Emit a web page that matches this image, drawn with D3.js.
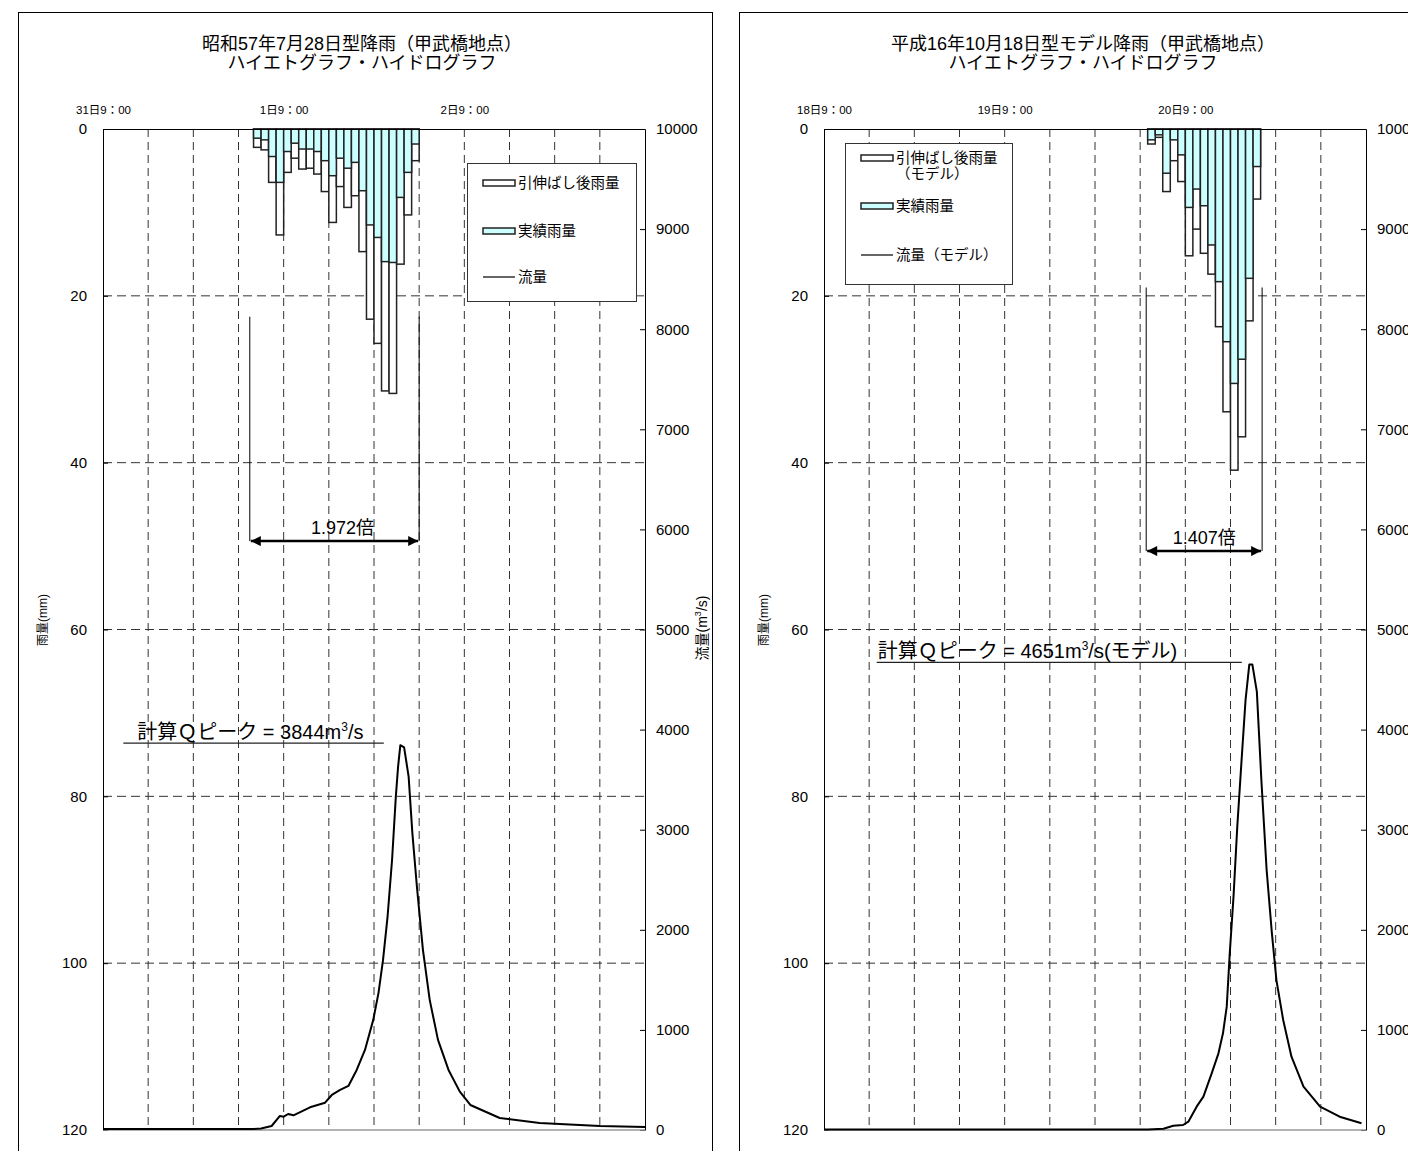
<!DOCTYPE html>
<html>
<head>
<meta charset="utf-8">
<script src="https://cdn.jsdelivr.net/npm/d3@7"></script>
<style>
  body { margin: 0; background: #fff; }
  svg { display: block; }
  text { font-family: "Liberation Sans", "Noto Sans CJK JP", sans-serif; fill: #000; }
</style>
</head>
<body>
<svg id="chart" width="1408" height="1151"></svg>
<script>
// ---- left: 昭和57年7月28日型 ----
const titleA = ["昭和57年7月28日型降雨（甲武橋地点）", "ハイエトグラフ・ハイドログラフ"];
const dayLabelsA = ["31日9：00", "1日9：00", "2日9：00"];
const rainStartA = 20; // hours after 31日9:00
const stretchedA = [2.2, 2.5, 6.4, 12.7, 5.2, 3.5, 4.8, 4.7, 5.4, 7.5, 11.2, 6.9, 9.4, 8.0, 14.7, 22.8, 25.7, 31.4, 31.7, 16.2, 10.3, 3.8];
const actualA = [1.1, 1.3, 3.3, 6.4, 2.7, 1.7, 2.4, 2.4, 2.7, 3.8, 5.6, 3.5, 4.7, 4.0, 7.4, 11.5, 13.0, 15.9, 16.0, 8.2, 5.2, 1.8];
const flowHoursA = [0, 20, 21, 22.4, 23.5, 24, 24.6, 25.3, 27.5, 29.5, 30.4, 31.5, 32.6, 33.7, 34.8, 35.9, 36.6, 37.2, 37.8, 38.4, 38.9, 39.2, 39.5, 40, 40.6, 41.1, 41.7, 42.5, 43.4, 44.5, 45.9, 47.4, 48.8, 52.7, 58, 66, 72];
const flowA = [10, 10, 15, 40, 140, 133, 160, 147, 227, 273, 350, 400, 440, 600, 800, 1100, 1370, 1700, 2130, 2700, 3330, 3630, 3844, 3823, 3530, 2963, 2430, 1800, 1300, 900, 600, 383, 250, 120, 70, 40, 30];
const ratioA = "1.972倍";
const peakA = 3844;
const legendA = [["引伸ばし後雨量"], ["実績雨量"], ["流量"]];

// ---- right: 平成16年10月18日型モデル ----
const titleB = ["平成16年10月18日型モデル降雨（甲武橋地点）", "ハイエトグラフ・ハイドログラフ"];
const dayLabelsB = ["18日9：00", "19日9：00", "20日9：00"];
const rainStartB = 43; // hours after 18日9:00
const stretchedB = [1.8, 1.0, 7.5, 3.8, 6.3, 15.2, 12.0, 14.9, 17.4, 23.7, 33.9, 40.9, 36.9, 23.0, 8.4];
const actualB = [1.3, 0.7, 5.3, 1.3, 3.1, 9.4, 7.2, 9.2, 13.9, 18.3, 25.5, 30.5, 27.6, 17.9, 4.5];
const flowHoursB = [0, 43, 45.1, 46.4, 47.7, 48.4, 49.5, 50.4, 51.5, 52.4, 53, 53.5, 53.9, 54.4, 54.9, 55.5, 56, 56.5, 56.9, 57.5, 58.1, 58.8, 59.5, 60.1, 61, 62.1, 63.7, 65.9, 68.5, 71.4];
const flowB = [5, 5, 13, 43, 50, 83, 233, 333, 566, 766, 966, 1232, 1765, 2331, 3030, 3729, 4296, 4651, 4651, 4379, 3497, 2597, 1965, 1498, 1099, 732, 433, 233, 133, 67];
const ratioB = "1.407倍";
const peakB = 4651;
const legendB = [["引伸ばし後雨量", "（モデル）"], ["実績雨量"], ["流量（モデル）"]];

const rainTicks = [0, 20, 40, 60, 80, 100, 120];
const flowTicks = d3.range(0, 10001, 1000);
const dayTicks = [0, 24, 48];
const gridHours = d3.range(6, 72, 6);

const svg = d3.select("#chart");
const cyan = "#ccffff";

const defs = svg.append("defs");
["s", "e"].forEach((k) => {
  defs.append("marker")
    .attr("id", "arr-" + k)
    .attr("viewBox", "0 0 10 10")
    .attr("refX", k === "e" ? 10 : 0)
    .attr("refY", 5)
    .attr("markerWidth", 5)
    .attr("markerHeight", 4)
    .attr("markerUnits", "strokeWidth")
    .attr("orient", "auto")
    .append("path")
    .attr("d", k === "e" ? "M0,0L10,5L0,10Z" : "M10,0L0,5L10,10Z")
    .attr("fill", "#000");
});

function drawPanel(cfg) {
  const ox = cfg.ox;
  const g = svg.append("g");

  g.append("rect")
    .attr("x", 18.5 + ox).attr("y", 12.5)
    .attr("width", 694).attr("height", 1170)
    .attr("fill", "#fff").attr("stroke", "#000");

  const x = d3.scaleLinear().domain([0, 72]).range([103 + ox, 645 + ox]);
  const yR = d3.scaleLinear().domain([0, 120]).range([129, 1130]);
  const yQ = d3.scaleLinear().domain([0, 10000]).range([1130, 129]);

  // titles
  g.selectAll("text.title")
    .data(cfg.title)
    .join("text")
    .attr("class", "title")
    .attr("x", 362 + ox)
    .attr("y", (d, i) => 50 + i * 19)
    .attr("text-anchor", "middle")
    .attr("font-size", 18)
    .text((d) => d);

  // grid
  g.append("g")
    .selectAll("line")
    .data(gridHours)
    .join("line")
    .attr("x1", (d) => x(d)).attr("x2", (d) => x(d))
    .attr("y1", yR(0)).attr("y2", yR(120))
    .attr("stroke", "#333").attr("stroke-dasharray", "8,5");
  g.append("g")
    .selectAll("line")
    .data(rainTicks.slice(1, -1))
    .join("line")
    .attr("x1", x(0)).attr("x2", x(72))
    .attr("y1", (d) => yR(d)).attr("y2", (d) => yR(d))
    .attr("stroke", "#333").attr("stroke-dasharray", "9,5");

  // rain bars: stretched (white) behind, actual (cyan) on top
  const bars = g.append("g");
  bars.selectAll("rect.st")
    .data(cfg.stretched)
    .join("rect")
    .attr("class", "st")
    .attr("x", (d, i) => x(cfg.start + i))
    .attr("width", (d, i) => x(cfg.start + i + 1) - x(cfg.start + i))
    .attr("y", yR(0))
    .attr("height", (d) => yR(d) - yR(0))
    .attr("fill", "#fff").attr("stroke", "#222").attr("stroke-width", 1.5);
  bars.selectAll("rect.ac")
    .data(cfg.actual)
    .join("rect")
    .attr("class", "ac")
    .attr("x", (d, i) => x(cfg.start + i))
    .attr("width", (d, i) => x(cfg.start + i + 1) - x(cfg.start + i))
    .attr("y", yR(0))
    .attr("height", (d) => yR(d) - yR(0))
    .attr("fill", cyan).attr("stroke", "#222").attr("stroke-width", 1.5);

  // axes
  g.append("g")
    .attr("transform", `translate(${x(0)},0)`)
    .call(d3.axisLeft(yR).tickValues(rainTicks).tickSizeInner(-5).tickSizeOuter(0).tickPadding(16))
    .call((s) => s.selectAll("text").attr("font-size", 15))
    .call((s) => s.select(".domain").attr("stroke", "#000"));
  g.append("g")
    .attr("transform", `translate(${x(72)},0)`)
    .call(d3.axisRight(yQ).tickValues(flowTicks).tickFormat(d3.format("d")).tickSizeInner(-5).tickSizeOuter(0).tickPadding(11))
    .call((s) => s.selectAll("text").attr("font-size", 15));
  g.append("g")
    .attr("transform", `translate(0,${yR(0)})`)
    .call(d3.axisTop(x).tickValues(dayTicks).tickFormat((d, i) => cfg.days[i]).tickSize(0).tickPadding(15))
    .call((s) => s.selectAll("text").attr("font-size", 11.5));
  g.append("line")
    .attr("x1", x(0)).attr("x2", x(72))
    .attr("y1", yR(120)).attr("y2", yR(120))
    .attr("stroke", "#999").attr("stroke-width", 1.5);

  // axis titles
  g.append("text")
    .attr("transform", `translate(${47 + ox},620) rotate(-90)`)
    .attr("text-anchor", "middle")
    .attr("font-size", 12)
    .text("雨量(mm)");
  const qt = g.append("text")
    .attr("transform", `translate(${707 + ox},628) rotate(-90)`)
    .attr("text-anchor", "middle")
    .attr("font-size", 14);
  qt.append("tspan").text("流量(m");
  qt.append("tspan").attr("dy", -6).attr("font-size", 9).text("3");
  qt.append("tspan").attr("dy", 6).text("/s)");

  // hydrograph
  const pts = cfg.flowHours.map((h, i) => [h, cfg.flow[i]]);
  g.append("path")
    .datum(pts)
    .attr("fill", "none")
    .attr("stroke", "#000")
    .attr("stroke-width", 2)
    .attr("stroke-linejoin", "round")
    .attr("d", d3.line().x((d) => x(d[0])).y((d) => yQ(d[1])));

  // stretch ratio annotation
  const a = cfg.anno;
  g.selectAll("line.vl")
    .data([a.h0, a.h1])
    .join("line")
    .attr("class", "vl")
    .attr("x1", (d) => x(d)).attr("x2", (d) => x(d))
    .attr("y1", yR(a.top)).attr("y2", yR(a.arrow))
    .attr("stroke", "#000");
  g.append("line")
    .attr("x1", x(a.h0) + 1).attr("x2", x(a.h1) - 1)
    .attr("y1", yR(a.arrow)).attr("y2", yR(a.arrow))
    .attr("stroke", "#000").attr("stroke-width", 2.5)
    .attr("marker-start", "url(#arr-s)")
    .attr("marker-end", "url(#arr-e)");
  g.append("text")
    .attr("x", (x(a.h0) + x(a.h1)) / 2 + a.rx)
    .attr("y", yR(a.arrow) - 7)
    .attr("text-anchor", "middle")
    .attr("font-size", 18)
    .text(cfg.ratio);

  // peak annotation
  const py = yQ(cfg.peak) - 2;
  g.append("line")
    .attr("x1", x(a.p0)).attr("x2", x(a.p1))
    .attr("y1", py).attr("y2", py)
    .attr("stroke", "#222").attr("stroke-width", 1.2);
  const pt = g.append("text")
    .attr("x", x(a.p0) + a.tx)
    .attr("y", py - 4)
    .attr("font-size", 20);
  pt.append("tspan").text(`計算Ｑピーク = ${cfg.peak}m`);
  pt.append("tspan").attr("dy", -8).attr("font-size", 12).text("3");
  pt.append("tspan").attr("dy", 8).text("/s" + cfg.peakSuffix);

  // legend
  const L = cfg.legend;
  g.append("rect")
    .attr("x", L.x + 0.5).attr("y", L.y + 0.5)
    .attr("width", L.w).attr("height", L.h)
    .attr("fill", "#fff").attr("stroke", "#333");
  cfg.legendItems.forEach((lines, i) => {
    const cy = L.y + L.rows[i];
    if (i < 2) {
      g.append("rect")
        .attr("x", L.x + 16).attr("y", cy - 3)
        .attr("width", 32).attr("height", 6)
        .attr("fill", i === 0 ? "#fff" : cyan)
        .attr("stroke", "#222").attr("stroke-width", 1.5);
    } else {
      g.append("line")
        .attr("x1", L.x + 16).attr("x2", L.x + 48)
        .attr("y1", cy).attr("y2", cy)
        .attr("stroke", "#000").attr("stroke-width", 1.2);
    }
    lines.forEach((t, j) => {
      g.append("text")
        .attr("x", L.x + 51)
        .attr("y", cy + 5 + j * 16)
        .attr("font-size", 14.5)
        .text(t);
    });
  });
}

drawPanel({
  ox: 0,
  title: titleA,
  days: dayLabelsA,
  start: rainStartA,
  stretched: stretchedA,
  actual: actualA,
  flowHours: flowHoursA,
  flow: flowA,
  ratio: ratioA,
  peak: peakA,
  peakSuffix: "",
  anno: { h0: 19.5, h1: 42, top: 22.5, arrow: 49.4, p0: 2.7, p1: 37.3, tx: 14, rx: 8 },
  legend: { x: 467, y: 163, w: 169, h: 138, rows: [20, 68, 114] },
  legendItems: legendA,
});

drawPanel({
  ox: 721,
  title: titleB,
  days: dayLabelsB,
  start: rainStartB,
  stretched: stretchedB,
  actual: actualB,
  flowHours: flowHoursB,
  flow: flowB,
  ratio: ratioB,
  peak: peakB,
  peakSuffix: "(モデル)",
  anno: { h0: 42.8, h1: 58.2, top: 19, arrow: 50.6, p0: 7, p1: 55.5, tx: 1, rx: 0 },
  legend: { x: 845, y: 143, w: 167, h: 141, rows: [15, 63, 112] },
  legendItems: legendB,
});
</script>
</body>
</html>
